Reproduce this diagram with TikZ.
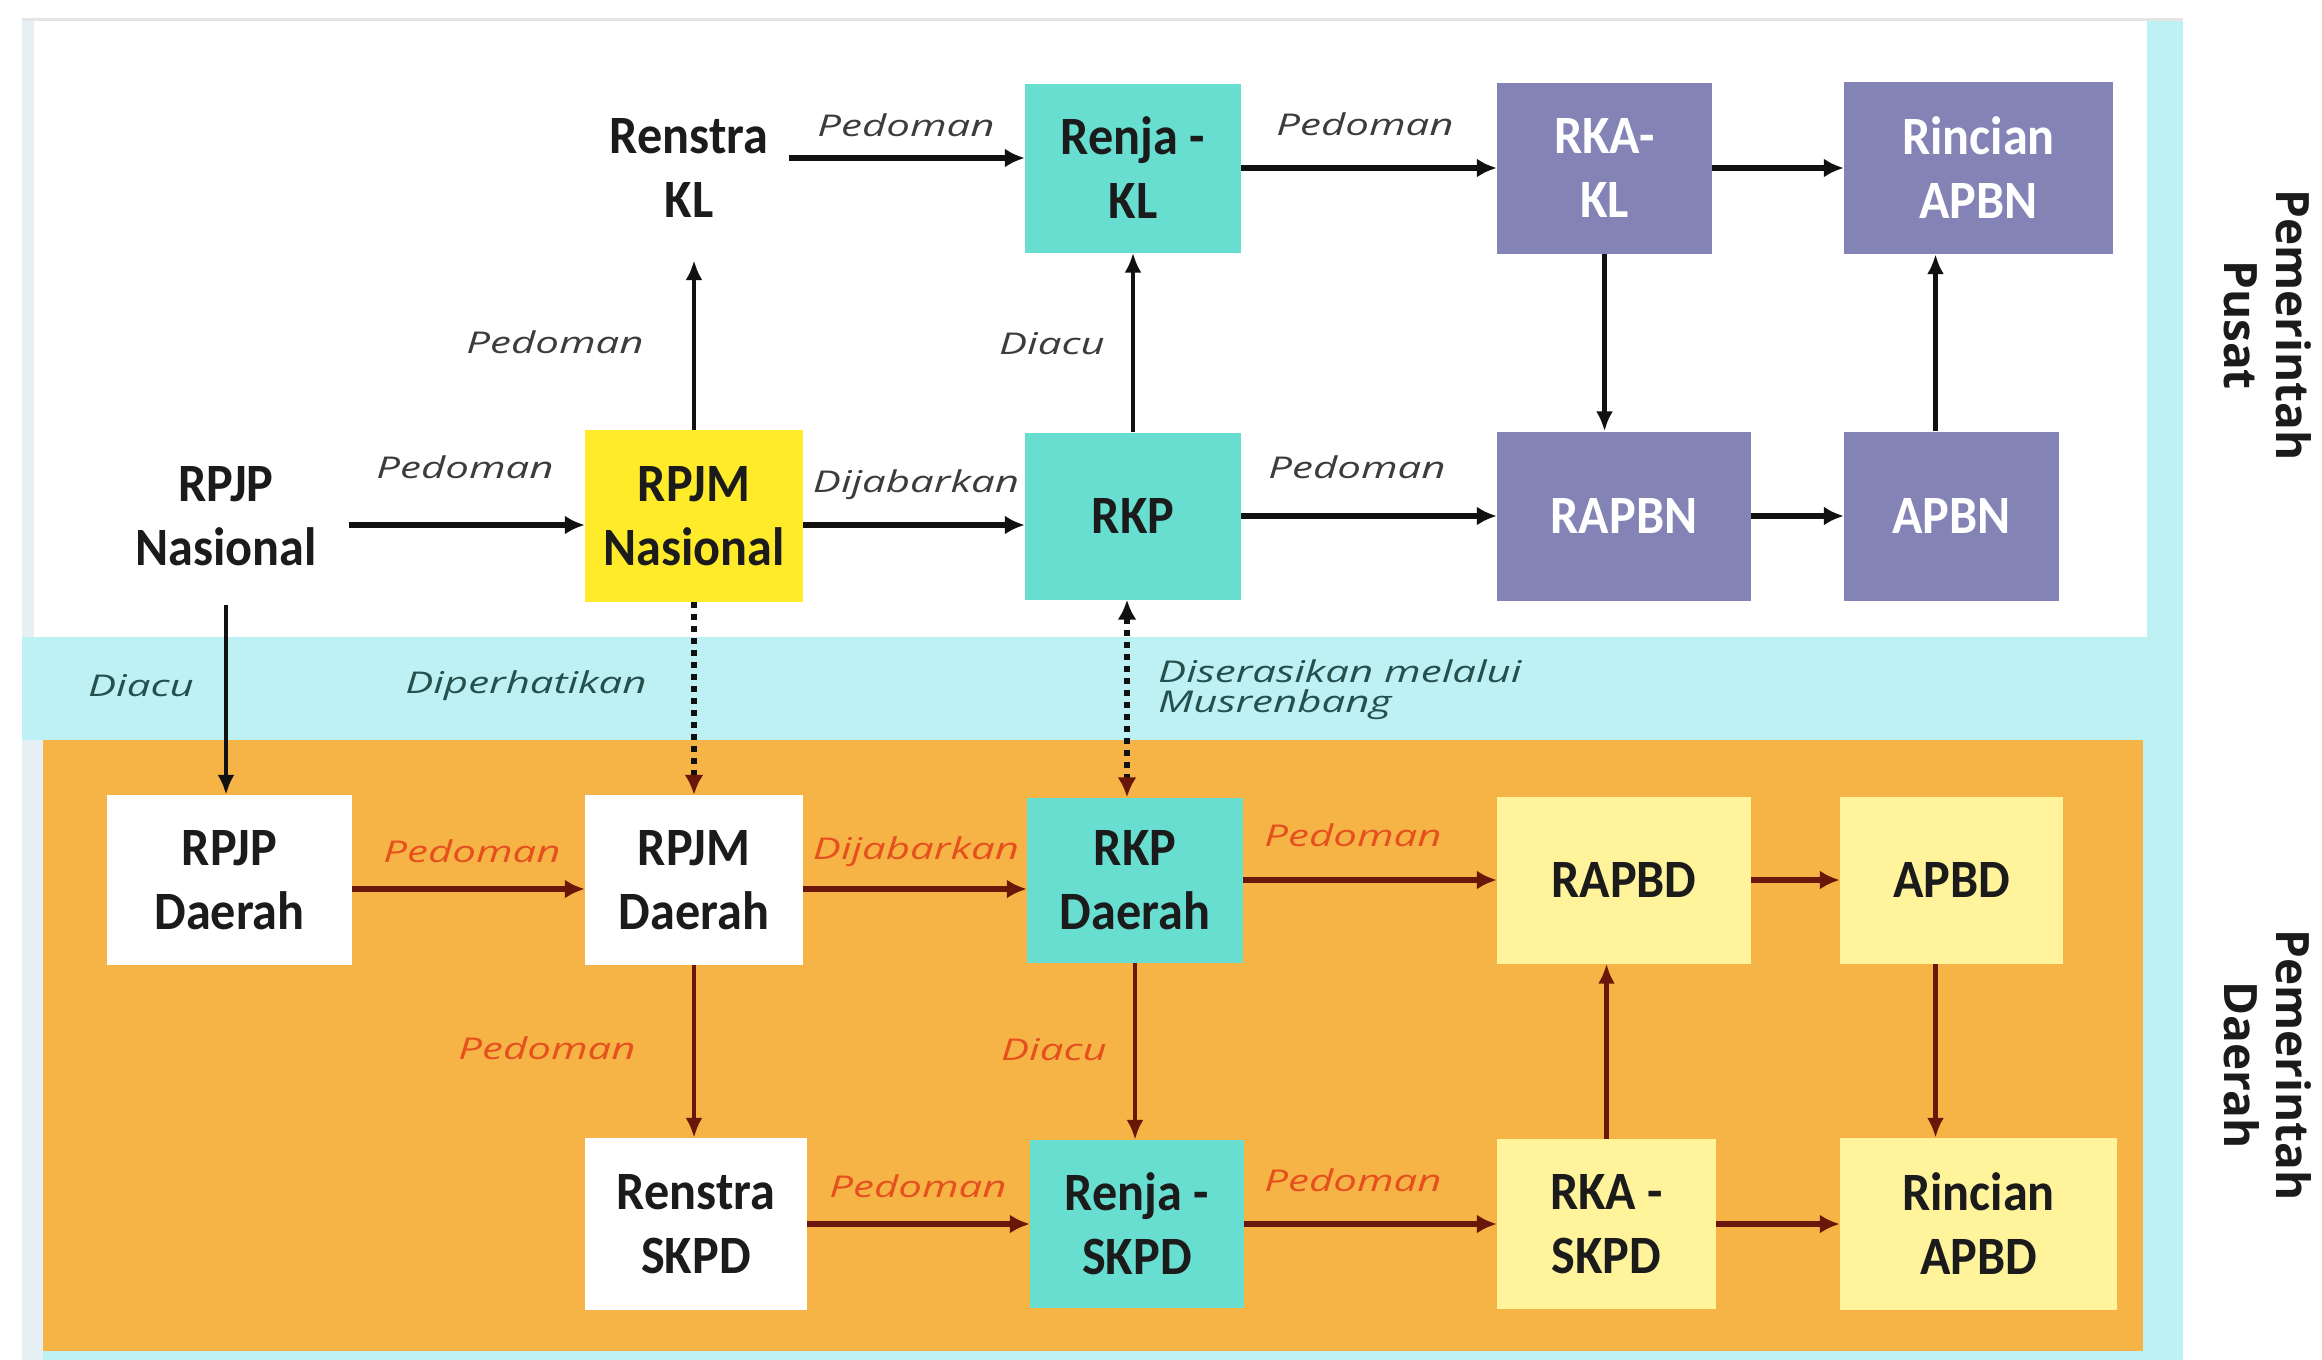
\documentclass[tikz,border=0pt]{standalone}
\usepackage{fontspec}
\setmainfont{Carlito}
\newfontfamily\nodefont[FakeStretch=0.93]{Carlito}
\newfontfamily\labelfont[FakeStretch=1.4]{Open Sans}
\newfontfamily\sidefont{Open Sans}
\usetikzlibrary{arrows.meta}
\definecolor{cyanbg}{HTML}{BDF1F4}
\definecolor{leftband}{HTML}{E6F0F4}
\definecolor{orangebg}{HTML}{F5B445}
\definecolor{cyanfill}{HTML}{68DED1}
\definecolor{yellowfill}{HTML}{FFEB2A}
\definecolor{purplefill}{HTML}{8383B5}
\definecolor{lightyellow}{HTML}{FFF49C}
\definecolor{txt}{HTML}{1B1B1B}
\definecolor{lbltopc}{HTML}{3C3C3C}
\definecolor{lblmidc}{HTML}{24504E}
\definecolor{lblbotc}{HTML}{E5501E}
\definecolor{arrtopc}{HTML}{111111}
\definecolor{arrbotc}{HTML}{6A1608}
\tikzset{
  box/.style={rectangle, inner sep=0pt, align=center, text=txt,
    font=\nodefont\bfseries\fontsize{54pt}{64pt}\selectfont},
  plainbox/.style={box},
  cyanbox/.style={box, fill=cyanfill},
  yellowbox/.style={box, fill=yellowfill},
  purplebox/.style={box, fill=purplefill, text=white},
  whitebox/.style={box, fill=white},
  lyellowbox/.style={box, fill=lightyellow},
  lbl/.style={inner sep=0pt, font=\labelfont\itshape\fontsize{30pt}{30pt}\selectfont},
  lbltop/.style={lbl, text=lbltopc},
  lblmid/.style={lbl, text=lblmidc},
  lblbot/.style={lbl, text=lblbotc},
  arrT/.style={draw=arrtopc, line width=6.5pt, -{Latex[length=20pt,width=19pt]}},
  arrTv/.style={draw=arrtopc, line width=4.5pt, -{Latex[length=20pt,width=17pt]}},
  arrB/.style={draw=arrbotc, line width=6.5pt, -{Latex[length=20pt,width=19pt]}},
  arrBv/.style={draw=arrbotc, line width=4.5pt, -{Latex[length=20pt,width=17pt]}},
  dotarr/.style={draw=arrtopc, line width=6pt, dash pattern=on 6pt off 6pt,
    -{Latex[length=20pt,width=19pt,color=arrbotc]}},
  dotarrb/.style={draw=arrtopc, line width=6pt, dash pattern=on 6pt off 6pt,
    {Latex[length=20pt,width=19pt]}-{Latex[length=20pt,width=19pt,color=arrbotc]}},
  side/.style={rotate=-90, align=center, text=txt,
    font=\sidefont\bfseries\fontsize{46pt}{52pt}\selectfont}
}
\begin{document}
\begin{tikzpicture}[x=1pt, y=-1pt]
\useasboundingbox (0,0) rectangle (2322,1360);
% backgrounds
\fill[white] (0,0) rectangle (2322,1360);
\fill[cyanbg] (22,20) rectangle (2183,1360);
\fill[leftband] (22,20) rectangle (34,637);
\fill[white] (34,20) rectangle (2147,637);
\fill[leftband] (22,740) rectangle (43,1360);
\fill[orangebg] (43,740) rectangle (2143,1351);
\draw[black!10, line width=3pt] (22,19) -- (2183,19);

% row 1
\node[plainbox, minimum width=200pt, minimum height=184pt] (renstra) at (689,168) {Renstra\\KL};
\node[cyanbox, minimum width=216pt, minimum height=169pt] (renjakl) at (1133,168) {Renja -\\KL};
\node[purplebox, minimum width=215pt, minimum height=171pt] (rkakl) at (1604.5,168) {RKA-\\KL};
\node[purplebox, minimum width=269pt, minimum height=172pt] (rincianapbn) at (1978.5,168) {Rincian\\APBN};
% row 2
\node[plainbox, minimum width=245pt, minimum height=178pt] (rpjpn) at (226,516) {RPJP\\Nasional};
\node[yellowbox, minimum width=218pt, minimum height=172pt] (rpjmn) at (694,516) {RPJM\\Nasional};
\node[cyanbox, minimum width=216pt, minimum height=167pt] (rkp) at (1133,516) {RKP};
\node[purplebox, minimum width=254pt, minimum height=169pt] (rapbn) at (1624,516) {RAPBN};
\node[purplebox, minimum width=215pt, minimum height=169pt] (apbn) at (1951.5,516) {APBN};
% row 3
\node[whitebox, minimum width=245pt, minimum height=170pt] (rpjpd) at (229.5,880) {RPJP\\Daerah};
\node[whitebox, minimum width=218pt, minimum height=170pt] (rpjmd) at (694,880) {RPJM\\Daerah};
\node[cyanbox, minimum width=216pt, minimum height=165pt] (rkpd) at (1135,880) {RKP\\Daerah};
\node[lyellowbox, minimum width=254pt, minimum height=167pt] (rapbd) at (1624,880) {RAPBD};
\node[lyellowbox, minimum width=223pt, minimum height=167pt] (apbd) at (1951.5,880) {APBD};
% row 4
\node[whitebox, minimum width=222pt, minimum height=172pt] (renstras) at (696,1224) {Renstra\\SKPD};
\node[cyanbox, minimum width=214pt, minimum height=168pt] (renjas) at (1137,1224) {Renja -\\SKPD};
\node[lyellowbox, minimum width=219pt, minimum height=170pt] (rkas) at (1606.5,1224) {RKA -\\SKPD};
\node[lyellowbox, minimum width=277pt, minimum height=172pt] (rincianapbd) at (1978.5,1224) {Rincian\\APBD};

% side labels
\node[side] (pusat) at (2268,325) {Pemerintah\\Pusat};
\node[side] (daerah) at (2268,1065) {Pemerintah\\Daerah};

% top arrows
\draw[arrT] ([yshift=10pt]renstra.east) -- ([yshift=10pt]renjakl.west);
\draw[arrT] (renjakl.east) -- (rkakl.west);
\draw[arrT] (rkakl.east) -- (rincianapbn.west);
\draw[arrTv] (rkakl.south) -- (rkakl.south |- rapbn.north);
\draw[arrTv] ([xshift=-16pt]apbn.north) -- ([xshift=-16pt]apbn.north |- rincianapbn.south);
\draw[arrTv] (rpjmn.north) -- (rpjmn.north |- renstra.south);
\draw[arrTv] (rkp.north) -- (rkp.north |- renjakl.south);
\draw[arrT] ([yshift=-9pt]rpjpn.east) -- ([yshift=-9pt]rpjmn.west);
\draw[arrT] ([yshift=-9pt]rpjmn.east) -- ([yshift=-9pt]rkp.west);
\draw[arrT] (rkp.east) -- (rapbn.west);
\draw[arrT] (rapbn.east) -- (apbn.west);
% between levels
\draw[arrTv] (rpjpn.south) -- (rpjpn.south |- rpjpd.north);
\draw[dotarr] (rpjmn.south) -- (rpjmn.south |- rpjmd.north);
\draw[dotarrb] ([xshift=-6pt]rkp.south) -- ([xshift=-6pt]rkp.south |- rkpd.north);
% bottom arrows
\draw[arrB] ([yshift=-9pt]rpjpd.east) -- ([yshift=-9pt]rpjmd.west);
\draw[arrB] ([yshift=-9pt]rpjmd.east) -- ([yshift=-9pt]rkpd.west);
\draw[arrB] (rkpd.east) -- (rapbd.west);
\draw[arrB] (rapbd.east) -- (apbd.west);
\draw[arrBv] (rpjmd.south) -- (rpjmd.south |- renstras.north);
\draw[arrBv] (rkpd.south) -- (rkpd.south |- renjas.north);
\draw[arrB] (renstras.east) -- (renjas.west);
\draw[arrB] (renjas.east) -- (rkas.west);
\draw[arrBv] (rkas.north) -- (rkas.north |- rapbd.south);
\draw[arrBv] ([xshift=-16pt]apbd.south) -- ([xshift=-16pt]apbd.south |- rincianapbd.north);
\draw[arrB] (rkas.east) -- (rincianapbd.west);

% labels top
\node[lbltop] (l1) at (906,125) {Pedoman};
\node[lbltop] (l2) at (1365,124) {Pedoman};
\node[lbltop] (l3) at (555,342) {Pedoman};
\node[lbltop] (l4) at (1052,344) {Diacu};
\node[lbltop] (l5) at (465,467) {Pedoman};
\node[lbltop] (l6) at (916,485) {Dijabarkan};
\node[lbltop] (l7) at (1357,467) {Pedoman};
% labels middle strip
\node[lblmid] (l8) at (141,686) {Diacu};
\node[lblmid] (l9) at (526,686) {Diperhatikan};
\node[lblmid, anchor=west, align=left] (l10) at (1158,690) {Diserasikan melalui\\Musrenbang};
% labels bottom
\node[lblbot] (l11) at (472,851) {Pedoman};
\node[lblbot] (l12) at (916,852) {Dijabarkan};
\node[lblbot] (l13) at (1353,835) {Pedoman};
\node[lblbot] (l14) at (547,1048) {Pedoman};
\node[lblbot] (l15) at (1054,1050) {Diacu};
\node[lblbot] (l16) at (918,1186) {Pedoman};
\node[lblbot] (l17) at (1353,1180) {Pedoman};
\end{tikzpicture}
\end{document}
